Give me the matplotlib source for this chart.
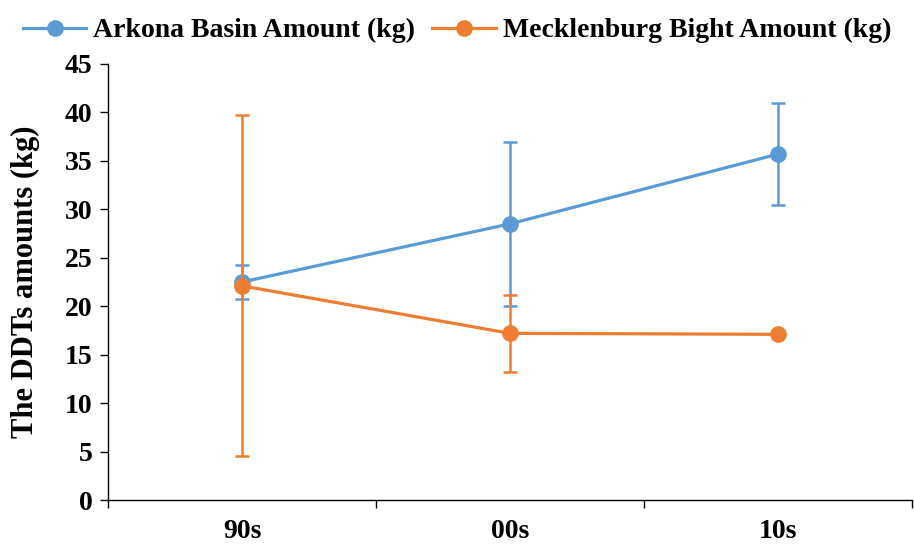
import matplotlib
matplotlib.use("Agg")
import matplotlib.pyplot as plt
from matplotlib.ticker import MultipleLocator
from matplotlib.lines import Line2D

categories = ["90s", "00s", "10s"]
arkona = [22.5, 28.5, 35.7]
arkona_err = [1.75, 8.5, 5.25]
meck = [22.1, 17.2, 17.1]
meck_err = [17.6, 4.0, 0.0]

blue = "#5B9BD5"
orange = "#ED7D31"

plt.rcParams["font.family"] = ["Liberation Serif", "DejaVu Serif"]
plt.rcParams["font.weight"] = "bold"

fig = plt.figure(figsize=(9.14, 5.45), dpi=100)
ax = fig.add_axes([108/914, 45/545, 804/914, 436/545])

x = list(range(len(categories)))
ax.errorbar(x, arkona, yerr=arkona_err, color=blue, lw=2.3, marker="o", ms=11,
            capsize=5, elinewidth=1.8, capthick=1.8, zorder=3)
ax.errorbar(x, meck, yerr=meck_err, color=orange, lw=2.3, marker="o", ms=11,
            capsize=5, elinewidth=1.8, capthick=1.8, zorder=4)

ax.set_xlim(-0.5, 2.5)
ax.set_ylim(0, 45)
ax.yaxis.set_major_locator(MultipleLocator(5))
ax.set_xticks([-0.5, 0.5, 1.5, 2.5])
ax.set_xticklabels([])
ax.set_xticks(x, minor=True)
ax.set_xticklabels(categories, minor=True)
ax.tick_params(axis="x", which="major", direction="out", length=6, width=1.0)
ax.tick_params(axis="x", which="minor", length=0, pad=14, labelsize=20)
ax.tick_params(axis="y", direction="out", length=6, width=1.0, labelsize=20, pad=5)
for lbl in ax.get_xticklabels(minor=True) + ax.get_yticklabels():
    lbl.set_fontweight("bold")

for s in ["top", "right"]:
    ax.spines[s].set_visible(False)
ax.spines["left"].set_linewidth(1.0)
ax.spines["bottom"].set_linewidth(1.0)

ax.set_ylabel("The DDTs amounts (kg)", fontsize=22, fontweight="bold", labelpad=18)

handles = [
    Line2D([], [], color=blue, lw=2.3, marker="o", ms=11),
    Line2D([], [], color=orange, lw=2.3, marker="o", ms=11),
]
labels = ["Arkona Basin Amount (kg)", "Mecklenburg Bight Amount (kg)"]
fig.legend(handles, labels, loc="upper center", bbox_to_anchor=(0.5, 1.013), ncol=2, frameon=False,
           prop={"size": 20, "weight": "bold"}, handlelength=2.3, columnspacing=0.6,
           handletextpad=0.25)

fig.savefig("out.png", dpi=100)
